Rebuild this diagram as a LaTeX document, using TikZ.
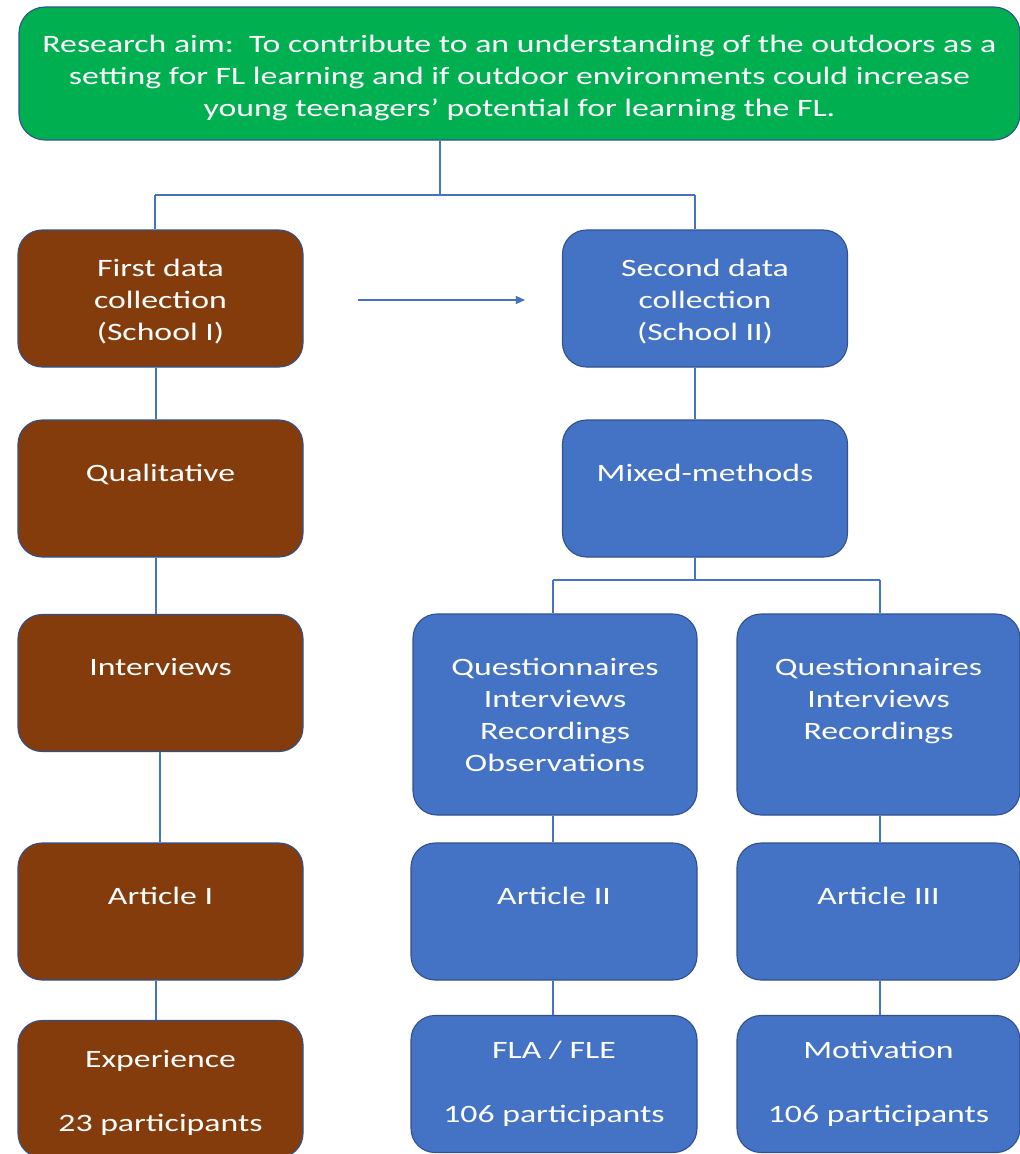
\documentclass[tikz,border=0pt]{standalone}
\usepackage{fontspec}
\setmainfont{Carlito}[FakeStretch=1.35]
\usetikzlibrary{arrows.meta,calc}
\definecolor{aimgreen}{HTML}{00B050}
\definecolor{brownbox}{HTML}{843C0C}
\definecolor{bluebox}{HTML}{4472C4}
\definecolor{edgeblue}{HTML}{2F528F}
\definecolor{linkblue}{HTML}{4472C4}
\newcommand\padtop[1]{\rule{0pt}{#1}}
\begin{document}
\begin{tikzpicture}[x=1pt,y=-1pt,
  box/.style={draw=edgeblue,line width=1.1pt,rounded corners=24pt,align=center,text=white,
    font=\fontsize{25}{32}\selectfont,inner sep=0pt,minimum width=285pt,minimum height=137pt},
  brownstyle/.style={box,fill=brownbox},
  bluestyle/.style={box,fill=bluebox},
  conn/.style={draw=linkblue,line width=1.4pt},
  arrowconn/.style={conn,-{Triangle[length=9pt,width=8pt]}}]
\useasboundingbox (0,0) rectangle (1020,1154);
% top box
\node[box,fill=aimgreen,minimum width=1001pt,minimum height=133pt,rounded corners=26pt] (aim) at (519.5,73.5)
  {\padtop{27pt}Research aim:\ \ To contribute to an understanding of the outdoors as a\\
   setting for FL learning and if outdoor environments could increase\\
   young teenagers’ potential for learning the FL.};
% left column
\node[brownstyle] (first) at (160.5,298.5) {\padtop{24pt}First data\\collection\\(School I)};
\node[brownstyle] (qual) at (160.5,488.5) {Qualitative\\\mbox{}};
\node[brownstyle] (intv) at (160.5,683) {Interviews\\\mbox{}};
\node[brownstyle] (art1) at (160.5,911.5) {Article I\\\mbox{}};
\node[brownstyle] (exp) at (160.5,1089) {\padtop{24pt}Experience\\\mbox{}\\23 participants};
% middle column
\node[bluestyle] (second) at (705,298.5) {\padtop{24pt}Second data\\collection\\(School II)};
\node[bluestyle] (mixed) at (705,488.5) {Mixed-methods\\\mbox{}};
\node[bluestyle,minimum width=284pt,minimum height=201pt] (q1) at (555,714.5)
  {Questionnaires\\Interviews\\Recordings\\Observations};
\node[bluestyle,minimum width=283pt,minimum height=201pt] (q2) at (878.5,714.5)
  {Questionnaires\\Interviews\\Recordings\\\mbox{}};
\node[bluestyle,minimum width=286pt] (art2) at (554,911.5) {Article II\\\mbox{}};
\node[bluestyle,minimum width=283pt] (art3) at (878.5,911.5) {Article III\\\mbox{}};
\node[bluestyle,minimum width=286pt] (fla) at (554,1084) {FLA / FLE\\\mbox{}\\106 participants};
\node[bluestyle,minimum width=283pt] (mot) at (878.5,1084) {Motivation\\\mbox{}\\106 participants};
% connectors from the aim
\coordinate (jTop) at (440,195);
\coordinate (jL) at (155,195);
\coordinate (jR) at (695,195);
\draw[conn] (aim.south -| jTop) -- (jTop);
\draw[conn] (jL) -- (jR);
\draw[conn] (jL) -- (first.north -| jL);
\draw[conn] (jR) -- (second.north -| jR);
% left chain
\coordinate (xL) at (156,0);
\coordinate (xL2) at (160,0);
\draw[conn] (first.south -| xL) -- (qual.north -| xL);
\draw[conn] (qual.south -| xL) -- (intv.north -| xL);
\draw[conn] (intv.south -| xL2) -- (art1.north -| xL2);
\draw[conn] (art1.south -| xL) -- (exp.north -| xL);
% arrow between collections
\draw[arrowconn] ($(first.east)+(54,1.5)$) -- ($(second.west)+(-37,1.5)$);
% middle chain
\draw[conn] (second.south -| jR) -- (mixed.north -| jR);
\coordinate (jM) at (695,580);
\coordinate (jQ1) at (553,580);
\coordinate (jQ2) at (880,580);
\draw[conn] (mixed.south -| jM) -- (jM);
\draw[conn] (jQ1) -- (jQ2);
\draw[conn] (jQ1) -- (q1.north -| jQ1);
\draw[conn] (jQ2) -- (q2.north -| jQ2);
\draw[conn] (q1.south -| jQ1) -- (art2.north -| jQ1);
\draw[conn] (art2.south -| jQ1) -- (fla.north -| jQ1);
\draw[conn] (q2.south -| jQ2) -- (art3.north -| jQ2);
\draw[conn] (art3.south -| jQ2) -- (mot.north -| jQ2);
\end{tikzpicture}
\end{document}
